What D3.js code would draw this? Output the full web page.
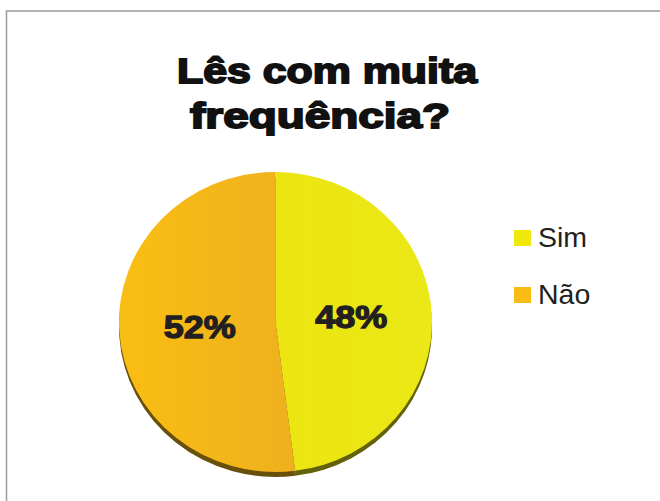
<!DOCTYPE html>
<html>
<head>
<meta charset="utf-8">
<script src="https://cdn.jsdelivr.net/npm/d3@7"></script>
<style>
  body { margin: 0; background: #fff; }
  svg { display: block; }
</style>
</head>
<body>
<div id="chart"></div>
<script>
// Pie chart - "Lês com muita frequência?"

// data
var categories = ["Sim", "Não"];
var values = [48, 52];
var colors = ["#ebe612", "#f5b919"];
var legendColors = ["#f0e80c", "#f9bb14"];
var titleLines = ["Lês com muita", "frequência?"];

// variables
var w = 660;
var h = 501;
var cx = 275.5, cy = 322;
var rx = 156.5, ry = 150;

var svg = d3.select("div#chart")
    .append("svg")
    .attr("width", w)
    .attr("height", h);

// frame
svg.append("rect")
    .attr("x", 6.5).attr("y", 11)
    .attr("width", 720).attr("height", 600)
    .attr("fill", "none")
    .attr("stroke", "#a0a0a0")
    .attr("stroke-width", 1.6);

// title
svg.selectAll("text.title")
    .data(titleLines)
    .enter()
    .append("text")
    .attr("class", "title")
    .attr("x", function(d, i) { return i == 0 ? 327 : 320; })
    .attr("y", function(d, i) { return 83 + i * 45; })
    .attr("text-anchor", "middle")
    .attr("textLength", function(d, i) { return i == 0 ? 300 : 260; })
    .attr("lengthAdjust", "spacingAndGlyphs")
    .style("font-family", "'Liberation Sans', Arial, sans-serif")
    .style("font-weight", "bold")
    .style("font-size", "35px")
    .style("fill", "#111")
    .style("stroke", "#111")
    .style("stroke-width", 1.8)
    .text(function(d) { return d; });

// gradients
var defs = svg.append("defs");
var g1 = defs.append("linearGradient").attr("id", "gSim")
    .attr("x1", "0%").attr("x2", "100%").attr("y1", "0%").attr("y2", "0%");
g1.append("stop").attr("offset", "0%").attr("stop-color", "#ece511");
g1.append("stop").attr("offset", "100%").attr("stop-color", "#eae816");
var g2 = defs.append("linearGradient").attr("id", "gNao")
    .attr("x1", "0%").attr("x2", "100%").attr("y1", "0%").attr("y2", "0%");
g2.append("stop").attr("offset", "0%").attr("stop-color", "#f9be12");
g2.append("stop").attr("offset", "100%").attr("stop-color", "#efb01f");
var fills = ["url(#gSim)", "url(#gNao)"];

// pie
var pie = d3.pie().sort(null).value(function(d) { return d; });
var arcs = pie(values);
var arc = d3.arc().innerRadius(0).outerRadius(rx);

// shadow
svg.append("g")
    .attr("transform", "translate(" + cx + "," + (cy + 5) + ") scale(1," + (ry / rx) + ")")
    .selectAll("path")
    .data(arcs)
    .enter()
    .append("path")
    .attr("d", arc)
    .attr("fill", function(d, i) { return d3.color(colors[i]).darker(2.4); });

svg.append("g")
    .attr("transform", "translate(" + cx + "," + cy + ") scale(1," + (ry / rx) + ")")
    .selectAll("path")
    .data(arcs)
    .enter()
    .append("path")
    .attr("d", arc)
    .attr("fill", function(d, i) { return fills[i]; });

// labels
var labelArc = d3.arc().innerRadius(76).outerRadius(76);
svg.selectAll("text.lbl")
    .data(arcs)
    .enter()
    .append("text")
    .attr("class", "lbl")
    .attr("x", function(d) { return cx + labelArc.centroid(d)[0]; })
    .attr("y", function(d) { return cy + labelArc.centroid(d)[1] * ry / rx + 11; })
    .attr("text-anchor", "middle")
    .attr("textLength", 72)
    .attr("lengthAdjust", "spacingAndGlyphs")
    .style("font-family", "'Liberation Sans', Arial, sans-serif")
    .style("font-weight", "bold")
    .style("font-size", "32px")
    .style("fill", "#231f20")
    .style("stroke", "#231f20")
    .style("stroke-width", 1.3)
    .text(function(d) { return d.value + "%"; });

// legend
var legend = svg.selectAll("g.legend")
    .data(categories)
    .enter()
    .append("g")
    .attr("class", "legend")
    .attr("transform", function(d, i) { return "translate(514," + (230 + i * 57) + ")"; });

legend.append("rect")
    .attr("width", 17).attr("height", 16)
    .attr("fill", function(d, i) { return legendColors[i]; });

legend.append("text")
    .attr("x", 24)
    .attr("y", 17)
    .style("font-family", "'Liberation Sans', Arial, sans-serif")
    .style("font-size", "28.5px")
    .style("fill", "#231f20")
    .text(function(d) { return d; });
</script>
</body>
</html>
